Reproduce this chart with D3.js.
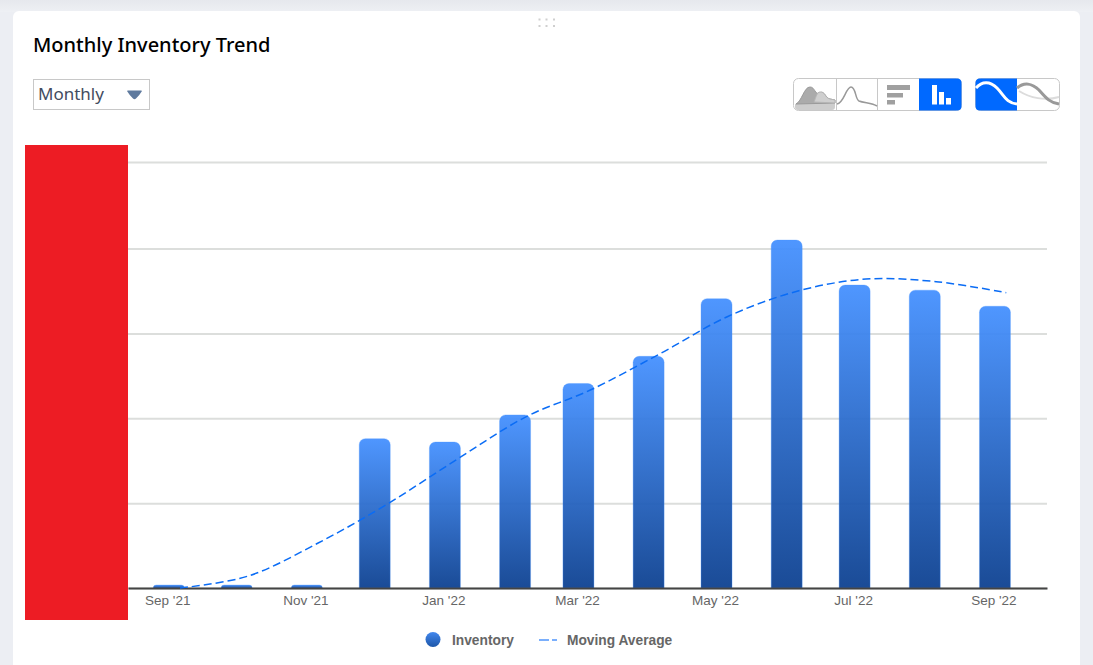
<!DOCTYPE html>
<html>
<head>
<meta charset="utf-8">
<title>Monthly Inventory Trend</title>
<script src="https://cdn.jsdelivr.net/npm/d3@7/dist/d3.min.js"></script>
<style>
	html, body { margin: 0; padding: 0; overflow: hidden; background: #eceef3; }
	svg { display: block; }
</style>
</head>
<body>
<div id="chart"></div>
<script>
const months = ["Sep 2021", "Oct 2021", "Nov 2021", "Dec 2021", "Jan 2022", "Feb 2022", "Mar 2022",
	"Apr 2022", "May 2022", "Jun 2022", "Jul 2022", "Aug 2022", "Sep 2022"];
const inventory = [3.5, 3.5, 3.5, 176, 172, 204, 241, 273, 341, 410, 357, 351, 332];
const ma_dates = ["Sep 6 2021", "Oct 6 2021", "Nov 6 2021", "Dec 6 2021", "Jan 6 2022", "Feb 6 2022", "Mar 6 2022",
	"Apr 6 2022", "May 6 2022", "Jun 6 2022", "Jul 6 2022", "Aug 6 2022", "Sep 6 2022"];
const moving_average = [0, 14, 53, 98, 151, 202, 233, 276, 320, 350, 364, 361, 348];
const x_ticks = ["Sep 2021", "Nov 2021", "Jan 2022", "Mar 2022", "May 2022", "Jul 2022", "Sep 2022"];
const y_ticks = [0, 100, 200, 300, 400, 502];
const x_limits = ["Aug 14 2021", "Sep 24 2022"];

const parse_month = d3.utcParse("%b %Y");
const parse_day = d3.utcParse("%b %d %Y");

const width = 1093, height = 665;
const left = 128, right = 1047, top_y = 162, base_y = 588;
const bar_width = 31;

var svg = d3.select("#chart").append("svg")
	.attr("width", width)
	.attr("height", height)

var defs = svg.append("defs")

function add_gradient(id, c0, c1) {
	var g = defs.append("linearGradient")
		.attr("id", id)
		.attr("x1", 0).attr("y1", 0)
		.attr("x2", 0).attr("y2", 1)
	g.append("stop").attr("offset", "0%").attr("stop-color", c0)
	g.append("stop").attr("offset", "100%").attr("stop-color", c1)
}
add_gradient("bar_fill", "#4490ff", "#0c4090");
add_gradient("dot_fill", "#4388ee", "#1d56a8");
add_gradient("page_top", "#e6e8ed", "#eef0f4");

// card
svg.append("rect")
	.attr("width", width).attr("height", 12)
	.attr("fill", "url(#page_top)")
svg.append("rect")
	.attr("x", 13).attr("y", 11)
	.attr("width", 1067).attr("height", 670)
	.attr("rx", 6)
	.attr("fill", "#fff")

// drag handle
d3.cross([539.5, 546.5, 554], [19.5, 26]).forEach(function(p) {
	svg.append("rect")
		.attr("x", p[0] - 1).attr("y", p[1] - 1)
		.attr("width", 2).attr("height", 2)
		.attr("fill", "#cfcfcf")
})

svg.append("text")
	.attr("x", 33).attr("y", 52)
	.style("font-family", "'Noto Sans'")
	.style("font-weight", 500)
	.style("font-size", "20px")
	.style("fill", "#000")
	.text("Monthly Inventory Trend")

// period select
svg.append("rect")
	.attr("x", 33.5).attr("y", 79.5)
	.attr("width", 116).attr("height", 30)
	.attr("fill", "#fff")
	.attr("stroke", "#c8c8c8")
svg.append("text")
	.attr("x", 38).attr("y", 100)
	.style("font-family", "'Noto Sans'")
	.style("font-size", "17px")
	.style("fill", "#434c60")
	.text("Monthly")
svg.append("path")
	.attr("d", "M127,91 Q127,90.5 128,90.5 L141,90.5 Q142,90.5 142,91 Q139,96 136,98.5 Q134.5,100 133,98.5 Q130,96 127,91 Z")
	.attr("fill", "#5f7a9e")

// chart type buttons
function button_group(x0, x1) {
	svg.append("rect")
		.attr("x", x0 + 0.5).attr("y", 78.5)
		.attr("width", x1 - x0).attr("height", 32)
		.attr("rx", 5)
		.attr("fill", "#fff")
		.attr("stroke", "#c8c8c8")
}
button_group(793, 961);
button_group(975, 1059);

svg.append("path").attr("fill", "#0069ff")
	.attr("d", "M919,78.5 H957 Q961.5,78.5 961.5,83 V106 Q961.5,110.5 957,110.5 H919 Z")
svg.append("path").attr("fill", "#0069ff")
	.attr("d", "M1017,78.5 H980 Q975.5,78.5 975.5,83 V106 Q975.5,110.5 980,110.5 H1017 Z")
svg.append("path").attr("stroke", "#c8c8c8").attr("fill", "none")
	.attr("d", "M836.5,78 V110 M877.5,78 V110")

// area icon
svg.append("path").attr("fill", "#cdcdcd")
	.attr("d", "M795,104 Q802,103 808,101 L822,101 Q828,100 835,103 V107 Q835,110 832,110 H798 Q795,110 795,107 Z")
svg.append("path").attr("fill", "#ababab").attr("stroke", "#9a9a9a")
	.attr("d", "M796,104 C802,101 804,87 810,87 C815,87 815,95 819,93 C825,90 825,98 830,99 L835,100 V103 L796,104 Z")
svg.append("path").attr("fill", "#cfcfcf").attr("stroke", "#b5b5b5")
	.attr("d", "M814,102 C816,97 817,92 820,92 C825,91 825,98 830,99 L835,100 V103 Z")
// line icon
svg.append("path").attr("fill", "none").attr("stroke", "#999").attr("stroke-width", 1.5)
	.attr("d", "M837,104 C844,103 846,87 851,87 C856,87 855,99 859,101 C864,103 872,103 877,106")
// horizontal bars icon
svg.append("path").attr("fill", "#a0a0a0")
	.attr("d", "M887,85 H910 V90 H887 Z M887,93 H903 V97.5 H887 Z M887,100 H895 V104.5 H887 Z")
// column icon
svg.append("path").attr("fill", "#fff")
	.attr("d", "M932,85 H937 V104.5 H932 Z M939,92 H944 V104.5 H939 Z M946,98 H951 V104.5 H946 Z")
// curve icons
svg.append("path").attr("fill", "none").attr("stroke", "#fff").attr("stroke-width", 3)
	.attr("d", "M976,88 C982,81 990,81 997,88 C1004,95 1006,103 1017,104")
svg.append("path").attr("fill", "none").attr("stroke", "#dcdcdc").attr("stroke-width", 2)
	.attr("d", "M1019,91 C1030,98 1045,101 1059,97")
svg.append("path").attr("fill", "none").attr("stroke", "#999").attr("stroke-width", 3)
	.attr("d", "M1017,88 C1024,82 1032,83 1039,90 C1046,98 1050,103 1059,104")

// scales
var x = d3.scaleUtc()
	.domain(x_limits.map(parse_day))
	.range([left, right])
var y = d3.scaleLinear()
	.domain([0, d3.max(y_ticks)])
	.range([base_y, top_y])

// grid from the y axis, labels sit under the redaction block
svg.append("g")
	.attr("transform", "translate(" + left + ",0)")
	.call(d3.axisLeft(y)
		.tickValues(y_ticks)
		.tickSize(-(right - left))
		.tickFormat(""))
	.call(function(g) { g.select(".domain").remove() })
	.selectAll("line")
	.attr("stroke", "#dcdedc")
	.attr("stroke-width", 2)

// bars
function bar_path(d, i) {
	var cx = x(parse_month(months[i]));
	var h = base_y - y(d);
	var r = Math.min(6, h);
	return "M" + (cx - bar_width / 2) + "," + base_y
		+ "v" + (-(h - r))
		+ "a" + r + "," + r + " 0 0 1 " + r + "," + (-r)
		+ "h" + (bar_width - 2 * r)
		+ "a" + r + "," + r + " 0 0 1 " + r + "," + r
		+ "v" + (h - r)
		+ "z";
}
svg.append("g").selectAll("path")
	.data(inventory)
	.join("path")
	.attr("d", bar_path)
	.attr("fill", "url(#bar_fill)")
	.attr("fill-opacity", 0.94)
	.attr("stroke", "#4a95ff")
	.attr("stroke-opacity", 0.3)

// x axis
var x_axis = svg.append("g")
	.attr("transform", "translate(0," + base_y + ")")
	.call(d3.axisBottom(x)
		.tickValues(x_ticks.map(parse_month))
		.tickSize(0)
		.tickPadding(7)
		.tickFormat(d3.utcFormat("%b '%y")))
x_axis.select(".domain")
	.attr("stroke", "#444")
	.attr("stroke-width", 2)
x_axis.selectAll("text")
	.attr("dx", "-1.5")
	.style("font-family", "'Liberation Sans'")
	.style("font-size", "13.5px")
	.style("fill", "#666")

// moving average
var line = d3.line()
	.x(function(d, i) { return x(parse_day(ma_dates[i])) })
	.y(function(d) { return y(d) })
	.curve(d3.curveCatmullRom.alpha(0.5))
svg.append("path")
	.datum(moving_average)
	.attr("d", line)
	.attr("fill", "none")
	.attr("stroke", "#0a6cf5")
	.attr("stroke-width", 1.5)
	.attr("stroke-dasharray", "8 4")

// redaction block
svg.append("rect")
	.attr("x", 25).attr("y", 145)
	.attr("width", 103).attr("height", 475)
	.attr("fill", "#ed1c24")

// legend
svg.append("circle")
	.attr("cx", 433).attr("cy", 639.5).attr("r", 7.5)
	.attr("fill", "url(#dot_fill)")
svg.append("path")
	.attr("d", "M539,640 H557")
	.attr("stroke", "#4f95fb")
	.attr("stroke-width", 1.6)
	.attr("stroke-dasharray", "10 3")
function legend_text(px, label) {
	svg.append("text")
		.attr("x", px).attr("y", 645)
		.style("font-family", "'Liberation Sans'")
		.style("font-weight", "bold")
		.style("font-size", "13.75px")
		.style("fill", "#666")
		.text(label)
}
legend_text(452, "Inventory");
legend_text(567, "Moving Average");
</script>
</body>
</html>
